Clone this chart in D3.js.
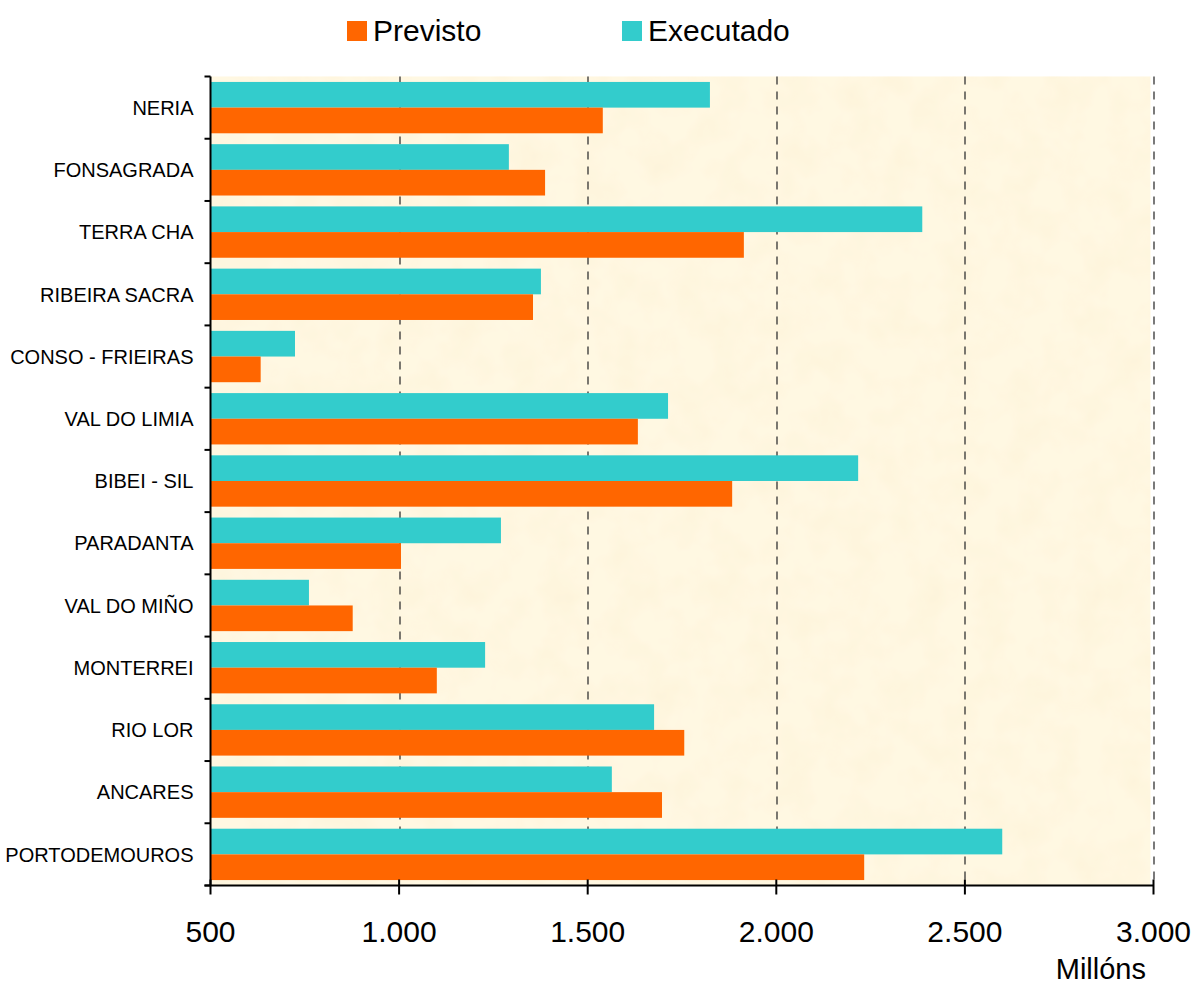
<!DOCTYPE html>
<html>
<head>
<meta charset="utf-8">
<script src="https://cdn.jsdelivr.net/npm/d3@7"></script>
<style>
body { margin: 0; background: #fff; }
text { font-family: "Liberation Sans", Arial, sans-serif; fill: #000; }
</style>
</head>
<body>
<div id="viz"></div>
<script>
var width = 1196;
var height = 986;
var margin = {top: 76.5, right: 42.5, bottom: 100, left: 210.5};

// data (millóns)
var categories = ["NERIA", "FONSAGRADA", "TERRA CHA", "RIBEIRA SACRA", "CONSO - FRIEIRAS", "VAL DO LIMIA",
	"BIBEI - SIL", "PARADANTA", "VAL DO MIÑO", "MONTERREI", "RIO LOR", "ANCARES", "PORTODEMOUROS"];
var previsto = [1540, 1387, 1914, 1355, 633, 1633, 1883, 1005, 877, 1100, 1756, 1697, 2233];
var executado = [1824, 1291, 2387, 1376, 724, 1713, 2217, 1270, 761, 1228, 1676, 1564, 2599];
var xTicks = [500, 1000, 1500, 2000, 2500, 3000];
var series = ["Executado", "Previsto"];

var color = d3.scaleOrdinal()
	.domain(["Previsto", "Executado"])
	.range(["#ff6600", "#33cccc"]);

var fmt = function(d) { return d3.format(",")(d).replace(/,/g, "."); };

var w = width - margin.left - margin.right;
var h = height - margin.top - margin.bottom - 0.5;

var x = d3.scaleLinear()
	.domain([500, 3000])
	.range([0, w]);

var y = d3.scaleBand()
	.domain(categories)
	.range([0, h])
	.paddingInner(0.175)
	.paddingOuter(0.0875);

var yInner = d3.scaleBand()
	.domain(series)
	.range([0, y.bandwidth()]);

var svg = d3.select("#viz").append("svg")
	.attr("width", width)
	.attr("height", height);

// parchment texture
var defs = svg.append("defs");
var filter = defs.append("filter").attr("id", "paper")
	.attr("x", 0).attr("y", 0).attr("width", "100%").attr("height", "100%");
filter.append("feTurbulence")
	.attr("type", "fractalNoise")
	.attr("baseFrequency", 0.03)
	.attr("numOctaves", 3)
	.attr("seed", 4)
	.attr("result", "noise");
filter.append("feColorMatrix")
	.attr("in", "noise")
	.attr("type", "matrix")
	.attr("values", "0 0 0 0 0.97  0 0 0 0 0.87  0 0 0 0 0.66  0 0 0 1 -0.4")
	.attr("result", "tint");
filter.append("feComposite").attr("in", "tint").attr("in2", "SourceGraphic").attr("operator", "in").attr("result", "t2");
filter.append("feMerge").call(function(m) {
	m.append("feMergeNode").attr("in", "SourceGraphic");
	m.append("feMergeNode").attr("in", "t2");
});

var g = svg.append("g")
	.attr("transform", "translate(" + margin.left + "," + margin.top + ")");

g.append("rect")
	.attr("x", 0).attr("y", 0)
	.attr("width", x(2992) ).attr("height", h)
	.attr("fill", "#fff8e2")
	.attr("filter", "url(#paper)");

// dashed grid
g.selectAll(".grid")
	.data(xTicks.slice(1))
	.enter().append("line")
	.attr("class", "grid")
	.attr("x1", function(d) { return Math.round(x(d)) + 0.5; })
	.attr("x2", function(d) { return Math.round(x(d)) + 0.5; })
	.attr("y1", 0).attr("y2", h)
	.attr("stroke", "#333")
	.attr("stroke-width", 1.3)
	.attr("stroke-dasharray", "8,7");

// bars
var rows = g.selectAll(".row")
	.data(categories)
	.enter().append("g")
	.attr("class", "row")
	.attr("transform", function(d) { return "translate(0," + y(d) + ")"; });

rows.append("rect")
	.attr("x", 0)
	.attr("y", yInner("Executado"))
	.attr("height", yInner.bandwidth())
	.attr("width", function(d, i) { return x(executado[i]); })
	.attr("fill", color("Executado"));

rows.append("rect")
	.attr("x", 0)
	.attr("y", yInner("Previsto"))
	.attr("height", yInner.bandwidth())
	.attr("width", function(d, i) { return x(previsto[i]); })
	.attr("fill", color("Previsto"));

// y axis
var yAxis = g.append("g");
yAxis.append("line")
	.attr("x1", 0).attr("x2", 0).attr("y1", 0).attr("y2", h)
	.attr("stroke", "#000").attr("stroke-width", 2);
var bounds = categories.map(function(d) { return y(d) - y.step() * y.paddingInner() / 2; });
bounds.push(h);
yAxis.selectAll(".ytick")
	.data(bounds)
	.enter().append("line")
	.attr("x1", -6).attr("x2", 0)
	.attr("y1", function(d) { return d; })
	.attr("y2", function(d) { return d; })
	.attr("stroke", "#000").attr("stroke-width", 2);
yAxis.selectAll(".ylab")
	.data(categories)
	.enter().append("text")
	.attr("x", -17)
	.attr("y", function(d) { return y(d) + y.bandwidth() / 2; })
	.attr("dy", "0.36em")
	.attr("text-anchor", "end")
	.style("font-size", "20px")
	.style("letter-spacing", "0px")
	.text(function(d) { return d; });

// x axis
var xAxis = g.append("g").attr("transform", "translate(0," + h + ")");
xAxis.append("line")
	.attr("x1", -6).attr("x2", w).attr("y1", 0).attr("y2", 0)
	.attr("stroke", "#000").attr("stroke-width", 2);
xAxis.selectAll(".xtick")
	.data(xTicks)
	.enter().append("line")
	.attr("x1", function(d) { return x(d); })
	.attr("x2", function(d) { return x(d); })
	.attr("y1", -6).attr("y2", 9)
	.attr("stroke", "#000").attr("stroke-width", 2);
xAxis.selectAll(".xlab")
	.data(xTicks)
	.enter().append("text")
	.attr("x", function(d) { return x(d); })
	.attr("y", 56.5)
	.attr("text-anchor", "middle")
	.style("font-size", "30px")
	.text(fmt);

svg.append("text")
	.attr("x", 1146)
	.attr("y", 979)
	.attr("text-anchor", "end")
	.style("font-size", "29px")
	.text("Millóns");

// legend
var legend = svg.append("g");
var legendItems = [{name: "Previsto", x: 347}, {name: "Executado", x: 622}];
var li = legend.selectAll(".leg")
	.data(legendItems)
	.enter().append("g")
	.attr("transform", function(d) { return "translate(" + d.x + ",21)"; });
li.append("rect")
	.attr("width", 20).attr("height", 20)
	.attr("fill", function(d) { return color(d.name); });
li.append("text")
	.attr("x", 26).attr("y", 20)
	.style("font-size", "30px")
	.text(function(d) { return d.name; });
</script>
</body>
</html>
